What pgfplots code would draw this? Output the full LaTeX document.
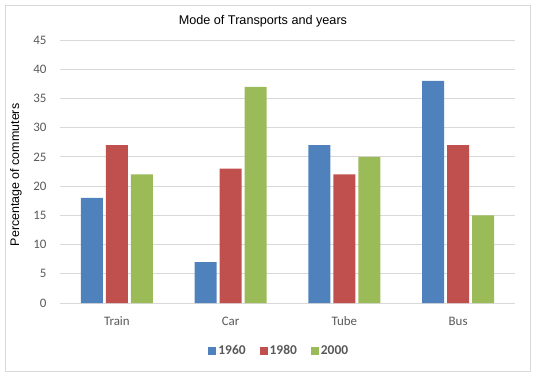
\documentclass[border=0pt]{standalone}
\usepackage{fontspec}
\setmainfont{Carlito}
\newfontfamily\arial{Liberation Sans}
\usepackage{pgfplots}
\pgfplotsset{compat=1.18}
\definecolor{cblue}{HTML}{4F81BD}
\definecolor{cred}{HTML}{C0504D}
\definecolor{cgreen}{HTML}{9BBB59}
\definecolor{gridgray}{HTML}{D9D9D9}
\definecolor{txtgray}{HTML}{595959}
\begin{document}
\begin{tikzpicture}[x=1bp,y=1bp]
\path[use as bounding box] (-60,-78) rectangle (478,303);
\draw[gridgray, line width=0.8bp] (-55,-68) rectangle (470,298);
\begin{axis}[
  at={(0,0)}, anchor=south west,
  scale only axis, width=455bp, height=263bp,
  ybar=3bp, bar width=22bp,
  xmin=-0.5, xmax=3.5, ymin=0, ymax=45,
  xtick={0,1,2,3}, xticklabels={Train,Car,Tube,Bus},
  ytick={0,5,...,45},
  axis line style={draw=none},
  major tick length=0pt,
  ymajorgrids, grid style={gridgray, line width=0.8bp},
  /pgf/number format/assume math mode=true,
  tick label style={font=\fontsize{13}{15}\selectfont, text=txtgray},
  yticklabel style={inner sep=0pt, anchor=east, xshift=-13.3bp},
  xticklabel style={inner sep=0pt, anchor=base, yshift=-22.7bp},
  title={Mode of Transports and years},
  title style={font=\arial\fontsize{12.7}{14}\selectfont, at={(rel axis cs:0.446,1.0354)}, anchor=base, inner sep=0pt},
  ylabel={Percentage of commuters},
  ylabel style={font=\arial\fontsize{12.5}{14}\selectfont, at={(rel axis cs:-0.0967,0.487)}, anchor=center, inner sep=0pt},
  legend columns=-1,
  legend style={draw=none, fill=none, at={(rel axis cs:0.482,-0.1825)}, anchor=center,
    font=\bfseries\fontsize{13.5}{15}\selectfont, text=txtgray,
    /tikz/every even column/.append style={column sep=12bp}},
  legend image code/.code={\fill[#1] (0bp,-4bp) rectangle (8bp,4bp);},
]
\addplot[fill=cblue, draw=none] coordinates {(0,18) (1,7) (2,27) (3,38)};
\addplot[fill=cred, draw=none] coordinates {(0,27) (1,23) (2,22) (3,27)};
\addplot[fill=cgreen, draw=none] coordinates {(0,22) (1,37) (2,25) (3,15)};
\legend{1960,1980,2000}
\end{axis}
\end{tikzpicture}
\end{document}
